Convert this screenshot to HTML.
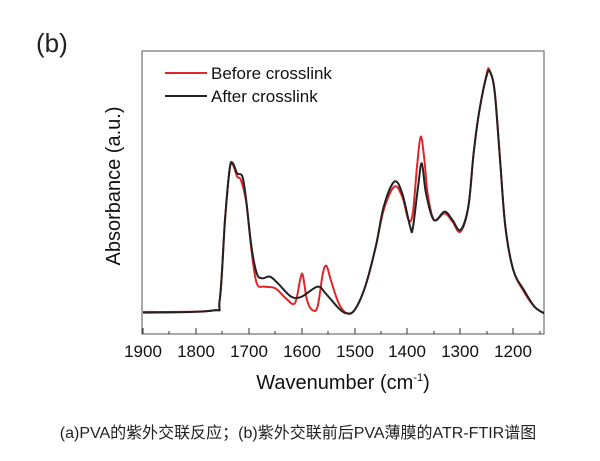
<!DOCTYPE html>
<html><head><meta charset="utf-8"><style>
html,body{margin:0;padding:0;background:#fff;width:600px;height:461px;overflow:hidden}
</style></head><body>
<svg width="600" height="461" viewBox="0 0 600 461" xmlns="http://www.w3.org/2000/svg" font-family="Liberation Sans, sans-serif">
<text x="36" y="52" font-size="26" fill="#222">(b)</text>
<rect x="142" y="51" width="402" height="283" fill="none" stroke="#555" stroke-width="1"/>
<g stroke="#333" stroke-width="1">
<line x1="143" y1="334" x2="143" y2="328"/><line x1="196" y1="334" x2="196" y2="328"/><line x1="249" y1="334" x2="249" y2="328"/><line x1="302" y1="334" x2="302" y2="328"/><line x1="355" y1="334" x2="355" y2="328"/><line x1="407" y1="334" x2="407" y2="328"/><line x1="460" y1="334" x2="460" y2="328"/><line x1="513" y1="334" x2="513" y2="328"/>
<line x1="169" y1="334" x2="169" y2="331"/><line x1="222" y1="334" x2="222" y2="331"/><line x1="275" y1="334" x2="275" y2="331"/><line x1="328" y1="334" x2="328" y2="331"/><line x1="381" y1="334" x2="381" y2="331"/><line x1="434" y1="334" x2="434" y2="331"/><line x1="487" y1="334" x2="487" y2="331"/><line x1="540" y1="334" x2="540" y2="331"/>
</g>
<g font-size="17" fill="#111" text-anchor="middle">
<text x="143" y="357">1900</text><text x="196" y="357">1800</text><text x="249" y="357">1700</text><text x="302" y="357">1600</text><text x="355" y="357">1500</text><text x="407" y="357">1400</text><text x="460" y="357">1300</text><text x="513" y="357">1200</text>
</g>
<text x="343" y="389" font-size="20" fill="#111" text-anchor="middle">Wavenumber (cm<tspan font-size="11" dy="-8">-1</tspan><tspan dy="8">)</tspan></text>
<text transform="translate(120,186) rotate(-90)" font-size="20" fill="#111" text-anchor="middle">Absorbance (a.u.)</text>
<line x1="165" y1="73" x2="207" y2="73" stroke="#e0262a" stroke-width="2"/>
<line x1="165" y1="96" x2="207" y2="96" stroke="#222" stroke-width="2"/>
<text x="211" y="79" font-size="17" fill="#111">Before crosslink</text>
<text x="211" y="102" font-size="17" fill="#111">After crosslink</text>
<g transform="matrix(-0.529 0 0 0.3333 1148.1 20)" fill="none" stroke-linejoin="round">
<path id="red" vector-effect="non-scaling-stroke" stroke="#e0262a" stroke-width="2" d="M1900 876 L1770 872 L1755 840 L1745 600 L1736 445 L1730 435 L1722 470 L1715 480 L1705 545 L1695 690 L1685 790 L1670 800 L1650 805 L1630 835 L1613 850 L1603 780 L1598 765 L1590 840 L1580 870 L1570 860 L1560 760 L1553 738 L1545 780 L1530 850 L1515 880 L1500 870 L1480 800 L1460 680 L1445 570 L1425 500 L1410 530 L1398 600 L1390 580 L1382 440 L1375 350 L1368 420 L1362 520 L1350 600 L1330 580 L1315 605 L1300 635 L1285 560 L1275 400 L1265 280 L1250 160 L1245 152 L1235 215 L1225 420 L1215 620 L1200 750 L1180 815 L1160 860 L1142 880"/>
<path id="blk" vector-effect="non-scaling-stroke" stroke="#222" stroke-width="2" d="M1900 878 L1770 872 L1755 840 L1745 600 L1736 445 L1730 430 L1722 460 L1712 470 L1705 540 L1695 680 L1685 760 L1675 775 L1660 770 L1645 790 L1620 830 L1600 830 L1570 800 L1555 820 L1530 865 L1515 880 L1500 870 L1480 800 L1460 680 L1445 560 L1425 485 L1410 520 L1395 620 L1390 625 L1380 500 L1373 430 L1365 520 L1350 600 L1330 575 L1315 600 L1300 630 L1285 560 L1275 400 L1265 280 L1250 165 L1243 158 L1235 220 L1225 420 L1215 620 L1200 750 L1180 810 L1160 860 L1142 880"/>
</g>
<text x="298" y="438" font-size="16" fill="#222" text-anchor="middle" font-family="Liberation Sans, Noto Sans CJK SC, sans-serif">(a)PVA的紫外交联反应；(b)紫外交联前后PVA薄膜的ATR-FTIR谱图</text>
</svg>
<script>
['red','blk'].forEach(function(id){
  var el=document.getElementById(id);
  var nums=el.getAttribute('d').replace(/[ML]/g,' ').trim().split(/\s+/).map(Number);
  var p=[];for(var i=0;i<nums.length;i+=2)p.push([nums[i],nums[i+1]]);
  var d='M'+p[0][0]+' '+p[0][1];
  for(var i=0;i<p.length-1;i++){
    var p0=p[i-1]||p[i],p1=p[i],p2=p[i+1],p3=p[i+2]||p2;
    var c1=[p1[0]+(p2[0]-p0[0])/6,p1[1]+(p2[1]-p0[1])/6];
    var c2=[p2[0]-(p3[0]-p1[0])/6,p2[1]-(p3[1]-p1[1])/6];
    d+=' C'+c1[0]+' '+c1[1]+' '+c2[0]+' '+c2[1]+' '+p2[0]+' '+p2[1];
  }
  el.setAttribute('d',d);
});
</script>
</body></html>
